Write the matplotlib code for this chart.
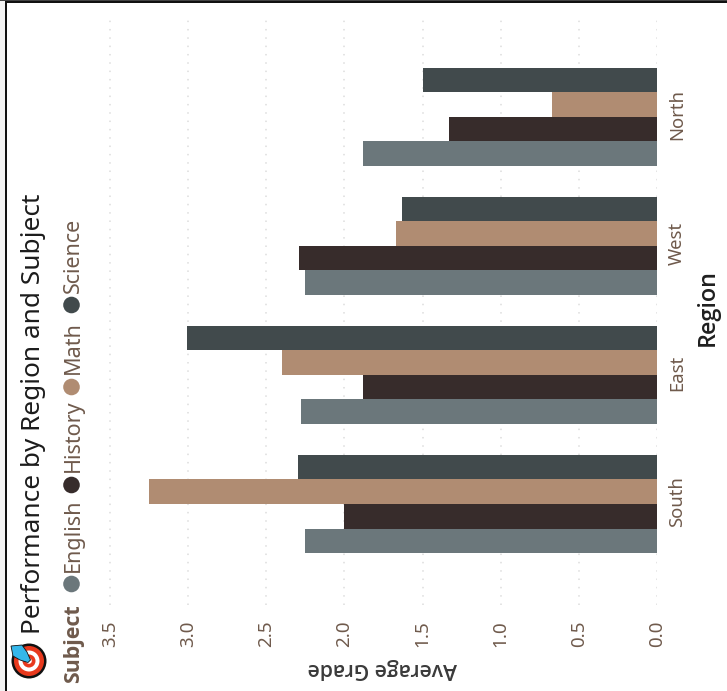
import matplotlib
matplotlib.use("Agg")
import matplotlib.pyplot as plt
from matplotlib.patches import Circle, Polygon, Rectangle
from matplotlib.transforms import ScaledTranslation

plt.rcParams['font.family'] = ['Noto Sans', 'DejaVu Sans']

W, H = 727, 691
regions = ["North", "West", "East", "South"]
subjects = ["English", "History", "Math", "Science"]
english = [1.88, 2.25, 2.28, 2.25]
history = [1.33, 2.29, 1.88, 2.00]
math_ = [0.67, 1.67, 2.40, 3.25]
science = [1.50, 1.63, 3.01, 2.30]
series = [english, history, math_, science]
colors = ["#6b777b", "#372c2b", "#b08c72", "#414a4c"]
text_brown = "#6f5a4c"
xticks = [0.0, 0.5, 1.0, 1.5, 2.0, 2.5, 3.0, 3.5]

fig = plt.figure(figsize=(W / 100, H / 100), dpi=100)
fig.patch.set_facecolor("white")

def fx(x): return x / W
def fy(y): return 1 - y / H

L, R, T, B = 96, 657, 18, 605
ax = fig.add_axes([fx(L), fy(B), (R - L) / W, (B - T) / H])
unit = 156.3
ax.set_xlim((R - L) / unit, 0)
bar_h = 24.5 / 129
for s, (vals, c) in enumerate(zip(series, colors)):
    ys = [i + (1.5 - s) * bar_h for i in range(len(regions))]
    ax.barh(ys, vals, height=bar_h, color=c, linewidth=0, zorder=3, label=subjects[s])

for side in ax.spines.values():
    side.set_visible(False)
ax.set_ylim((B - 117) / 129, (T - 117) / 129)
ax.set_xticks(xticks)
ax.set_xticklabels([f"{t:.1f}" for t in xticks], rotation=90, fontsize=13.5, color=text_brown)
ax.set_yticks(range(len(regions)))
ax.set_yticklabels(regions, rotation=90, va="center", fontsize=13.3, color=text_brown)
ax.yaxis.tick_right()
ax.tick_params(axis="y", length=0, pad=8)
ax.tick_params(axis="x", length=0, pad=11)
offset = ScaledTranslation(0, 2.5 / 100, fig.dpi_scale_trans)
for lab in ax.get_yticklabels():
    lab.set_transform(lab.get_transform() + offset)
ax.xaxis.grid(True, color="#dddddd", linestyle=(0, (1, 4.45)), linewidth=1.1, zorder=0)
ax.set_axisbelow(True)

fig.text(fx(708), fy(308), "Region", rotation=90, ha="center", va="center", fontsize=16.8, color="#1f1f1f",
         family="Open Sans", fontweight="semibold")
fig.text(fx(382), fy(668), "Average Grade", rotation=180, ha="center", va="center", fontsize=15.2,
         color="#3a3a3a", family="Open Sans", fontweight="semibold")
fig.text(fx(33.5), fy(634), "Performance by Region and Subject", rotation=90, ha="center", va="bottom",
         fontsize=18.85, color="#1c1c1c")

# legend
fig.text(fx(73.5), fy(683), "Subject", rotation=90, ha="center", va="bottom", fontsize=15.4, fontweight="bold",
         family="Open Sans", color=text_brown)
leg = [("English", 584, 572), ("History", 485, 472), ("Math", 387, 374), ("Science", 305, 293)]
for (name, cy, ty), c in zip(leg, colors):
    fig.add_artist(Circle((71.5, H - cy), 8.3, transform=None, color=c, lw=0))
    fig.text(fx(73.5), fy(ty), name, rotation=90, ha="center", va="bottom", fontsize=15.5, color=text_brown)

# target emoji
for r, c in [(17.5, "#111111"), (15, "#e8391d"), (10.5, "#ffffff"), (6.5, "#e8391d"), (2.8, "#ffffff")]:
    fig.add_artist(Circle((29, H - 661), r, transform=None, color=c, lw=0))
fig.add_artist(Polygon([(11, H - 646), (22, H - 645), (27, H - 652), (30.5, H - 660), (28, H - 662.5), (20, H - 660), (13, H - 656)],
                       closed=True, transform=None, fc="#35b7ea", ec="#111111", lw=0.6))

# page edge outside the frame and outer frame
fig.add_artist(Rectangle((0, 0), 5 / W, 1, transform=fig.transFigure, color="#f3f3f3", lw=0))
fig.add_artist(Rectangle((0, 1 - 1 / H), 1, 1 / H, transform=fig.transFigure, color="#444444", lw=0))
fig.add_artist(Rectangle((5 / W, 0), 2 / W, 1 - 1 / H, transform=fig.transFigure, color="#111111", lw=0))
fig.add_artist(Rectangle((5 / W, 1 - 3 / H), 1, 2 / H, transform=fig.transFigure, color="#111111", lw=0))

fig.savefig("out.png", dpi=100)
